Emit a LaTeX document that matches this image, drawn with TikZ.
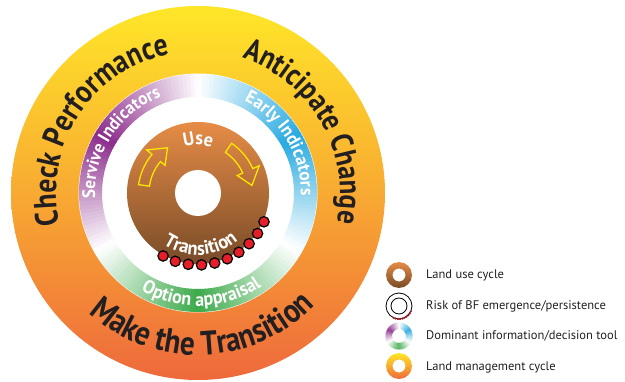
\documentclass[tikz,border=0pt]{standalone}
\usepackage{fontspec}
\setmainfont{PT Sans}
\newfontfamily\rotfont[FakeStretch=0.86]{PT Sans}
\newfontfamily\rotfontancho[FakeStretch=0.95]{PT Sans}
\usepackage{tikz}
\usetikzlibrary{decorations.text}

\definecolor{anilloarriba}{RGB}{255,230,40}
\definecolor{anillomedio}{RGB}{248,170,50}
\definecolor{anilloabajo}{RGB}{238,105,60}
\definecolor{cafearriba}{RGB}{230,140,70}
\definecolor{cafeabajo}{RGB}{120,75,40}
\definecolor{morado}{RGB}{140,45,140}
\definecolor{azul}{RGB}{40,170,225}
\definecolor{verde}{RGB}{60,170,75}
\definecolor{rojo}{RGB}{230,30,40}
\definecolor{amarillo}{RGB}{255,230,0}
\definecolor{tinta}{RGB}{35,31,32}

% anillo de colores: #1 radio interior, #2 radio exterior
\newcommand{\anillocolor}[2]{%
  \foreach \ini/\ca/\cb in {30/azul/white, 90/white/morado, 150/morado/white,
                            210/white/verde, 270/verde/white, 330/white/azul}{%
    \foreach \k in {0,...,29}{%
      \pgfmathsetmacro\a{\ini+2*\k}%
      \pgfmathsetmacro\b{\a+2.4}%
      \pgfmathtruncatemacro\p{100-100*(\k+0.5)/30}%
      \fill[fill=\ca!\p!\cb] (\a:#2) arc[start angle=\a, end angle=\b, radius=#2]
        -- (\b:#1) arc[start angle=\b, end angle=\a, radius=#1] -- cycle;
    }%
  }%
}

\begin{document}
\begin{tikzpicture}[x=1pt, y=1pt,
    % texto sobre arcos: #1 tamano, #2 texto
    grande/.style 2 args={decorate, decoration={text along path, text align=center, text color=tinta,
        text={|\rotfont\fontsize{#1}{#1}\selectfont\bfseries|#2}}},
    mediano/.style 2 args={decorate, decoration={text along path, text align=center, text color=white,
        text={|\rotfontancho\fontsize{#1}{#1}\selectfont\bfseries|#2}}},
    flecha/.style={amarillo, line width=1.3, line join=miter},
    punto/.style={fill=rojo, draw=black, line width=1.2},
    leyenda/.style={anchor=west, text=tinta, font=\fontsize{12.5}{12.5}\selectfont, inner sep=0pt}
  ]
  \useasboundingbox (0,0) rectangle (625,381);

  \begin{scope}[shift={(198,188)}]
    % ciclo de gestion
    \shade[top color=anilloarriba, bottom color=anilloabajo, middle color=anillomedio] (0,0) circle[radius=187];
    \fill[white] (0,0) circle[radius=119.5];
    % herramienta de informacion
    \anillocolor{96}{119}
    % ciclo de uso
    \shade[top color=cafearriba, bottom color=cafeabajo] (0,0) circle[radius=71];
    \fill[white] (0,0) circle[radius=23];

    \foreach \s/\m/\e in {172/140/124, 56/24/8}
      \draw[flecha] (\s:49) arc[start angle=\s, end angle=\m, radius=49] -- (\m:43) -- (\e:54.5)
        -- (\m:67) -- (\m:60) arc[start angle=\m, end angle=\s, radius=60] -- cycle;

    % riesgo
    \foreach \k in {0,...,9}
      \draw[punto] ({241+10.6*\k}:72) circle[radius=5.2];

    \path[grande={32}{Check Performance}] (227:142) arc[start angle=227, end angle=67, radius=142];
    \path[grande={31}{Anticipate Change}] (110:142) arc[start angle=110, end angle=-50, radius=142];
    \path[grande={34}{Make the Transition}] (192:162) arc[start angle=192, end angle=352, radius=162];

    \path[mediano={18}{Servive Indicators}] (227:103) arc[start angle=227, end angle=67, radius=103];
    \path[mediano={18.5}{Early Indicators}] (111:103) arc[start angle=111, end angle=-49, radius=103];
    \path[mediano={19}{Option appraisal}] (192:113) arc[start angle=192, end angle=352, radius=113];
    \path[mediano={19}{Use}] (170:48) arc[start angle=170, end angle=10, radius=48];
    \path[mediano={19.5}{Transition}] (193:62) arc[start angle=193, end angle=353, radius=62];
  \end{scope}

  % leyenda
  \shade[top color=cafearriba, bottom color=cafeabajo, even odd rule] (399,106) circle[radius=13] circle[radius=6.5];
  \draw[line width=0.8] (399,75) circle[radius=13] (399,75) circle[radius=8];
  \foreach \a in {245,255,...,335}
    \fill[rojo!70!black] (399,75) ++(\a:13) circle[radius=1.2];
  \begin{scope}[shift={(399,45)}]
    \anillocolor{7}{13.5}
  \end{scope}
  \shade[top color=anilloarriba, bottom color=anilloabajo, middle color=anillomedio, even odd rule] (399,15) circle[radius=13] circle[radius=6.5];

  \node[leyenda] (uso) at (426,106) {Land use cycle};
  \node[leyenda] (riesgo) at (426,75) {Risk of BF emergence/persistence};
  \node[leyenda] (herramienta) at (426,45) {Dominant information/decision tool};
  \node[leyenda] (gestion) at (426,14) {Land management cycle};
\end{tikzpicture}
\end{document}
